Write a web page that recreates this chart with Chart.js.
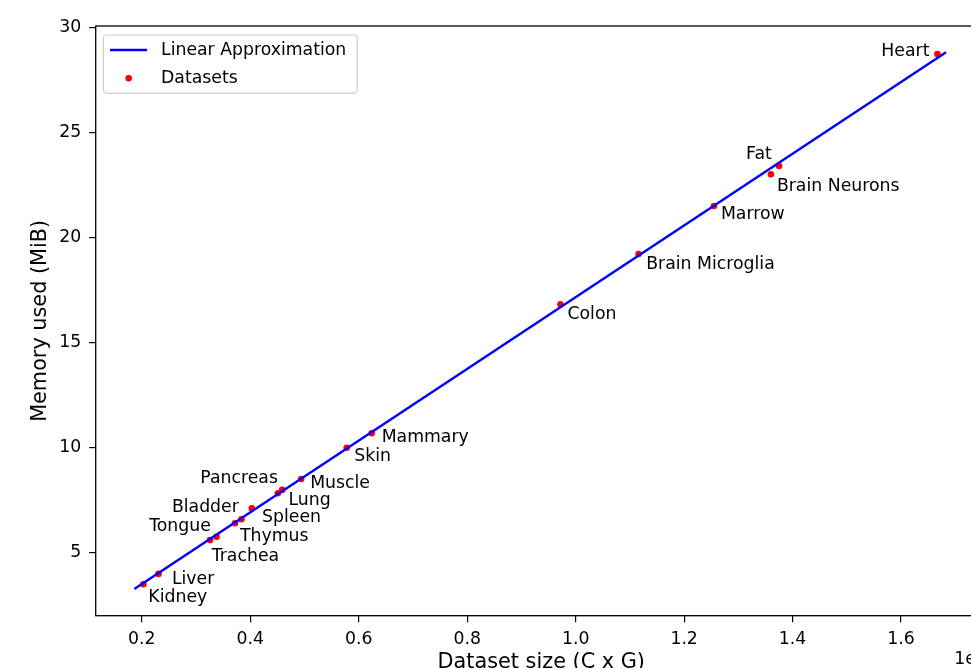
<!DOCTYPE html>
<html>
<head>
<meta charset="utf-8">
<script src="https://cdn.jsdelivr.net/npm/chart.js@4.4.1/dist/chart.umd.min.js"></script>
<style>
  html, body { margin: 0; padding: 0; overflow: hidden; background: #ffffff; }
  canvas { display: block; }
</style>
</head>
<body>
<canvas id="chart" width="1060" height="682"></canvas>
<script>
// Tissue datasets: size in cells x genes (units of 1e8) and peak memory in MiB
const datasetNames = [
  'Kidney', 'Liver', 'Trachea', 'Tongue', 'Thymus', 'Bladder', 'Spleen',
  'Lung', 'Pancreas', 'Muscle', 'Skin', 'Mammary', 'Colon',
  'Brain Microglia', 'Marrow', 'Brain Neurons', 'Fat', 'Heart'
];
const datasetSizes = [
  0.203, 0.231, 0.326, 0.338, 0.372, 0.384, 0.403,
  0.451, 0.459, 0.494, 0.578, 0.624, 0.972,
  1.116, 1.255, 1.360, 1.375, 1.667
];
const memoryMiB = [
  3.50, 3.99, 5.60, 5.76, 6.40, 6.59, 7.11,
  7.83, 7.99, 8.51, 10.00, 10.69, 16.83,
  19.22, 21.51, 23.02, 23.41, 28.75
];

// Least-squares line, evaluated at its two ends
const fitX = [0.1864, 1.6829];
const fitY = [3.27, 28.83];

const xTicks = [0.2, 0.4, 0.6, 0.8, 1.0, 1.2, 1.4, 1.6];
const yTicks = [5, 10, 15, 20, 25, 30];

// Annotation placement for each name: pixel offset from its point, text alignment
const labelPlacement = [
  [5, 13, 'left'], [13.4, 5.8, 'left'], [1.7, 16.8, 'left'], [-5.7, -9.9, 'right'],
  [5, 13.5, 'left'], [-2.7, -11.8, 'right'], [10.3, 9.2, 'left'],
  [10.6, 7.5, 'left'], [-4.3, -11.5, 'right'], [9, 4.5, 'left'], [7.6, 9, 'left'],
  [10, 4.2, 'left'], [7, 10, 'left'],
  [7.7, 10.2, 'left'], [7, 8.8, 'left'], [6, 12.2, 'left'], [-7.3, -11.8, 'right'],
  [-8, -2.5, 'right']
];

const FONT = "'DejaVu Sans', 'Liberation Sans', sans-serif";
const TEXT_SIZE = 17.3;
const TITLE_SIZE = 20.8;

const framePlugin = {
  id: 'frame',
  afterDatasetsDraw(chart) {
    const { ctx, chartArea: a } = chart;
    ctx.save();
    ctx.strokeStyle = '#000000';
    ctx.lineWidth = 1.3;
    ctx.strokeRect(a.left, a.top, a.right - a.left, a.bottom - a.top);
    ctx.restore();
  }
};

const annotationPlugin = {
  id: 'pointNames',
  afterDatasetsDraw(chart) {
    const { ctx } = chart;
    const xs = chart.scales.x, ys = chart.scales.y;
    ctx.save();
    ctx.font = `${TEXT_SIZE}px ${FONT}`;
    ctx.fillStyle = '#000000';
    ctx.textBaseline = 'middle';
    datasetNames.forEach((name, i) => {
      const [dx, dy, align] = labelPlacement[i];
      const px = xs.getPixelForValue(datasetSizes[i]);
      const py = ys.getPixelForValue(memoryMiB[i]);
      ctx.textAlign = align;
      ctx.fillText(name, px + dx, py + dy);
    });
    // exponent of the x axis
    ctx.textAlign = 'right';
    ctx.textBaseline = 'alphabetic';
    ctx.fillText('1e8', chart.chartArea.right, chart.chartArea.bottom + 48);
    ctx.restore();
  }
};

const legendPlugin = {
  id: 'insetLegend',
  afterDraw(chart) {
    const { ctx, chartArea: a } = chart;
    const sets = chart.data.datasets;
    const bx = a.left + 7.6, by = a.top + 9, bw = 254, bh = 58.3, r = 4;
    ctx.save();
    ctx.beginPath();
    ctx.moveTo(bx + r, by);
    ctx.arcTo(bx + bw, by, bx + bw, by + bh, r);
    ctx.arcTo(bx + bw, by + bh, bx, by + bh, r);
    ctx.arcTo(bx, by + bh, bx, by, r);
    ctx.arcTo(bx, by, bx + bw, by, r);
    ctx.closePath();
    ctx.fillStyle = 'rgba(255,255,255,0.8)';
    ctx.fill();
    ctx.strokeStyle = '#cccccc';
    ctx.lineWidth = 1.2;
    ctx.stroke();

    const row1 = a.top + 24.6, row2 = a.top + 52.2;
    ctx.strokeStyle = sets[0].borderColor;
    ctx.lineWidth = sets[0].borderWidth;
    ctx.beginPath();
    ctx.moveTo(a.left + 14.3, a.top + 24);
    ctx.lineTo(a.left + 51.3, a.top + 24);
    ctx.stroke();

    ctx.fillStyle = sets[1].backgroundColor;
    ctx.beginPath();
    ctx.arc(a.left + 33, row2, 3.3, 0, Math.PI * 2);
    ctx.fill();

    ctx.fillStyle = '#000000';
    ctx.font = `${TEXT_SIZE}px ${FONT}`;
    ctx.textAlign = 'left';
    ctx.textBaseline = 'middle';
    ctx.fillText(sets[0].label, a.left + 65.3, row1);
    ctx.fillText(sets[1].label, a.left + 65.3, row2);
    ctx.restore();
  }
};

const axisTicks = { display: true, drawOnChartArea: false, drawTicks: true, tickLength: 6.5, color: '#000000', lineWidth: 1.2 };

new Chart(document.getElementById('chart'), {
  type: 'scatter',
  data: {
    datasets: [
      {
        label: 'Linear Approximation',
        data: fitX.map((x, i) => ({ x, y: fitY[i] })),
        showLine: true,
        borderColor: '#0000ff',
        borderWidth: 2.4,
        pointRadius: 0,
        pointHoverRadius: 0,
        fill: false
      },
      {
        label: 'Datasets',
        data: datasetSizes.map((x, i) => ({ x, y: memoryMiB[i] })),
        backgroundColor: '#ff0000',
        borderWidth: 0,
        pointRadius: 3.3,
        pointHoverRadius: 3.3
      }
    ]
  },
  options: {
    responsive: false,
    animation: false,
    devicePixelRatio: 1,
    layout: { padding: { left: 0, top: 26, right: 73.2, bottom: 0 } },
    plugins: { legend: { display: false }, tooltip: { enabled: false } },
    scales: {
      x: {
        type: 'linear',
        min: 0.1152,
        max: 1.758,
        afterBuildTicks(scale) { scale.ticks = xTicks.map(v => ({ value: v })); },
        afterFit(scale) { scale.height = 66.3; },
        grid: axisTicks,
        border: { display: false },
        ticks: {
          font: { family: FONT, size: TEXT_SIZE },
          color: '#000000',
          padding: 7,
          maxRotation: 0,
          autoSkip: false,
          callback: v => Number(v).toFixed(1)
        },
        title: {
          display: true,
          text: 'Dataset size (C x G)',
          font: { family: FONT, size: TITLE_SIZE },
          color: '#000000',
          padding: { top: 0, bottom: 7 }
        }
      },
      y: {
        type: 'linear',
        min: 2.0,
        max: 30.08,
        afterBuildTicks(scale) { scale.ticks = yTicks.map(v => ({ value: v })); },
        afterFit(scale) { scale.width = 95.7; },
        grid: axisTicks,
        border: { display: false },
        ticks: {
          font: { family: FONT, size: TEXT_SIZE },
          color: '#000000',
          padding: 8,
          autoSkip: false,
          callback: v => String(v)
        },
        title: {
          display: true,
          text: 'Memory used (MiB)',
          font: { family: FONT, size: TITLE_SIZE },
          color: '#000000',
          padding: { top: 28, bottom: 0 }
        }
      }
    }
  },
  plugins: [framePlugin, annotationPlugin, legendPlugin]
});
</script>
</body>
</html>
